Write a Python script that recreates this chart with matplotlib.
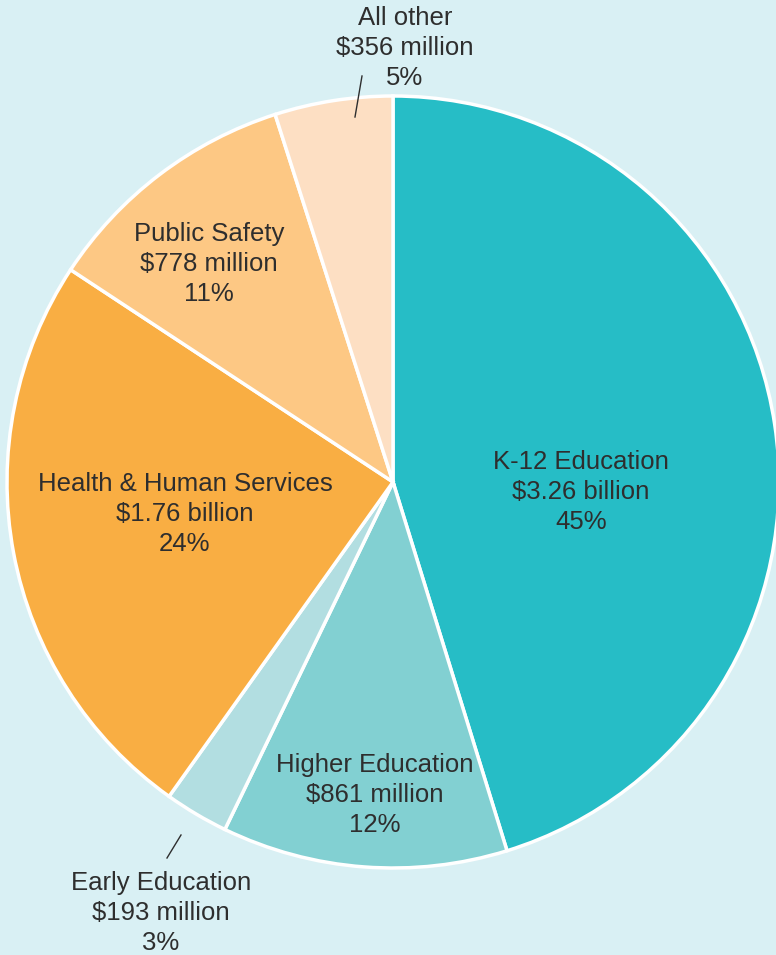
import matplotlib.pyplot as plt

plt.rcParams['font.family'] = ['Liberation Sans', 'DejaVu Sans']

labels = ['K-12 Education', 'Higher Education', 'Early Education',
          'Health & Human Services', 'Public Safety', 'All other']
amounts = [3260, 861, 193, 1760, 778, 356]  # millions
amount_text = ['$3.26 billion', '$861 million', '$193 million',
               '$1.76 billion', '$778 million', '$356 million']
pct_text = ['45%', '12%', '3%', '24%', '11%', '5%']
colors = ['#26BDC6', '#82D0D2', '#B2DEE1', '#F9AE43', '#FDC884', '#FDDFC3']

bg = '#D9F0F4'
W, H = 776, 955
fig = plt.figure(figsize=(W / 100, H / 100), dpi=100, facecolor=bg)
ax = fig.add_axes([0, 0, 1, 1])
ax.set_facecolor(bg)

# work in pixel coords measured from the top, flipped for the axes
def fy(y):
    return H - y

cx, cy, r = 393, 482, 386
ax.pie(amounts, colors=colors, startangle=90, counterclock=False,
       center=(cx, fy(cy)), radius=r, frame=True,
       wedgeprops=dict(edgecolor='white', linewidth=2.5))
ax.set_xlim(0, W)
ax.set_ylim(0, H)
ax.set_aspect('equal')
ax.axis('off')

# label positions (first line centre, pixels from top)
label_pos = [(581, 462), (375, 765), (161, 883), (185, 484), (209, 234), (405, 18)]
for lab, amt, pct, (x, y) in zip(labels, amount_text, pct_text, label_pos):
    ax.text(x, fy(y + 30), f'{lab}\n{amt}\n{pct}', ha='center', va='center',
            fontsize=18.5, color='#2e2e2e', linespacing=1.3)

# leader lines
ax.plot([362, 355], [fy(76), fy(117)], color='#2e2e2e', lw=1)
ax.plot([181, 167], [fy(835), fy(858)], color='#2e2e2e', lw=1)

fig.savefig('out.png', dpi=100, facecolor=bg)
